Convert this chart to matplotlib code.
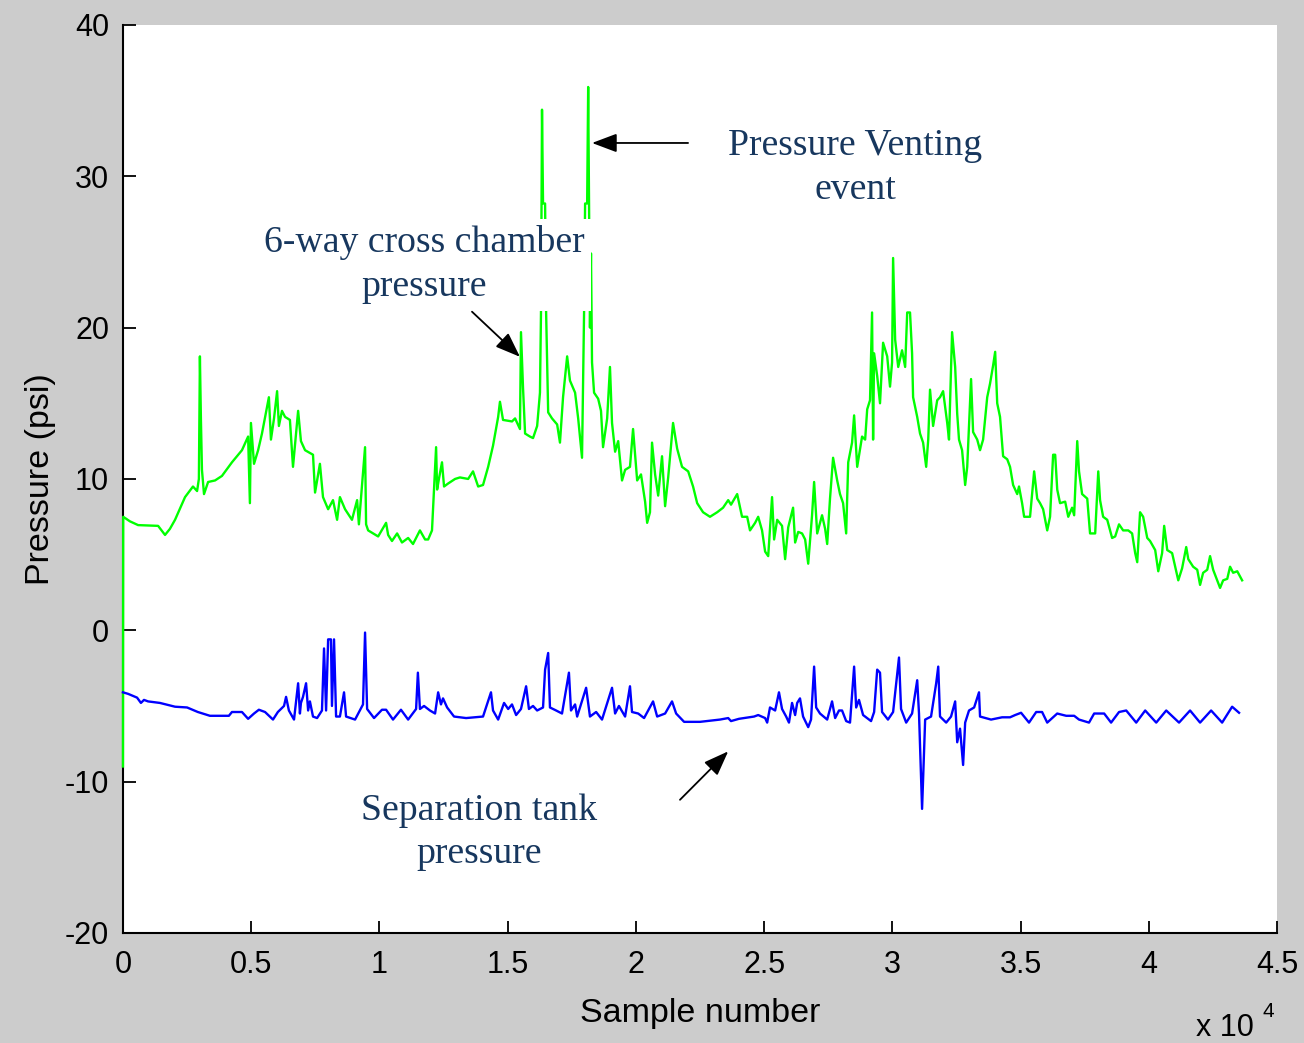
"""Chamber and separation tank pressure against sample number.

MATLAB-style figure: grey surround, white axes with only the left and
bottom axis lines, a green and a blue trace, and serif call-outs with
black arrows.  Saved as ``out.png``.
"""

import matplotlib

matplotlib.use("Agg")

import matplotlib.pyplot as plt
import numpy as np
from matplotlib.patches import ArrowStyle

# ===========================================================================
# DATA
# ===========================================================================

# 6-way cross chamber pressure (green): sample number, psi
chamber_x = [
    0, 10, 270, 590, 1370, 1640, 1830, 2030, 2420, 2730, 2890, 2960, 3000,
    3040, 3080, 3160, 3320, 3590, 3860, 4250, 4640, 4880, 4950, 4990, 5110,
    5270, 5420, 5620, 5690, 5770, 5890, 6010, 6080, 6200, 6320, 6510, 6630,
    6750, 6830, 6940, 7100, 7410, 7490, 7680, 7800, 8000, 8190, 8350, 8460,
    8660, 8930, 9130, 9200, 9440, 9480, 9560, 9950, 10260, 10340, 10490,
    10690, 10880, 11120, 11310, 11580, 11780, 11900, 12050, 12210, 12250,
    12320, 12440, 12520, 12680, 12950, 13140, 13460, 13650, 13850, 14040,
    14240, 14430, 14630, 14700, 14820, 15170, 15290, 15480, 15520, 15600,
    15680, 15870, 15990, 16150, 16260, 16300, 16340, 16380, 16460, 16500,
    16580, 16730, 16930, 17040, 17160, 17320, 17430, 17630, 17750, 17900,
    17980, 18020, 18100, 18140, 18210, 18250, 18290, 18370, 18530, 18640,
    18720, 18880, 18990, 19070, 19190, 19310, 19460, 19580, 19770, 19890,
    20050, 20200, 20360, 20440, 20550, 20630, 20750, 20870, 21020, 21140,
    21260, 21450, 21610, 21800, 22040, 22230, 22390, 22620, 22890, 23170,
    23400, 23600, 23710, 23950, 24140, 24340, 24450, 24650, 24770, 24920,
    25040, 25160, 25310, 25390, 25510, 25700, 25820, 25940, 26130, 26210,
    26330, 26480, 26600, 26720, 26870, 26950, 27070, 27260, 27380, 27460,
    27570, 27690, 27850, 27960, 28080, 28200, 28280, 28430, 28510, 28630,
    28820, 28940, 29020, 29130, 29210, 29250, 29290, 29410, 29520, 29640,
    29800, 29910, 29990, 30030, 30110, 30230, 30380, 30500, 30580, 30690,
    30770, 30810, 30970, 31080, 31200, 31320, 31400, 31470, 31590, 31750,
    31860, 31980, 32140, 32210, 32330, 32450, 32530, 32600, 32720, 32840,
    32920, 33070, 33150, 33310, 33420, 33540, 33700, 33810, 33930, 34010,
    34090, 34200, 34320, 34480, 34590, 34710, 34870, 34940, 35060, 35140,
    35370, 35450, 35530, 35650, 35760, 35880, 36040, 36150, 36270, 36350,
    36430, 36540, 36740, 36860, 37010, 37090, 37210, 37280, 37400, 37600,
    37710, 37910, 38030, 38100, 38220, 38380, 38570, 38690, 38840, 39000,
    39200, 39350, 39470, 39550, 39660, 39780, 39940, 40050, 40250, 40370,
    40520, 40600, 40720, 40910, 41030, 41150, 41300, 41460, 41540, 41730,
    41890, 42000, 42120, 42280, 42390, 42510, 42670, 42780, 42900, 43060,
    43170, 43290, 43450, 43640,
]
chamber_psi = [
    -9.0, 7.5, 7.2, 6.95, 6.9, 6.3, 6.7, 7.3, 8.8, 9.5, 9.2, 10.0, 18.1,
    13.9, 10.6, 9.0, 9.8, 9.9, 10.2, 11.1, 11.9, 12.8, 8.4, 13.7, 11.0,
    11.9, 13.0, 14.8, 15.4, 12.6, 14.0, 15.8, 13.5, 14.5, 14.1, 13.9, 10.8,
    13.0, 14.5, 12.5, 11.9, 11.6, 9.1, 11.0, 8.8, 8.0, 8.6, 7.3, 8.8,
    8.0, 7.3, 8.6, 7.0, 12.1, 7.0, 6.6, 6.2, 7.1, 6.3, 5.9,
    6.4, 5.8, 6.1, 5.7, 6.6, 6.0, 6.0, 6.6, 12.1, 9.3,
    10.0, 11.1, 9.5, 9.7, 10.0, 10.1, 10.0, 10.5, 9.5, 9.6,
    10.8, 12.2, 14.1, 15.1, 13.9, 13.8, 14.0, 13.3, 19.7, 16.0,
    13.0, 12.8, 12.7, 13.5, 15.7, 21.0, 34.4, 28.2, 28.2, 21.0,
    14.4, 14.0, 13.6, 12.4, 15.4, 18.1, 16.5, 15.7, 14.0, 11.4,
    21.0, 28.2, 28.2, 35.9, 20.0, 24.9, 17.7, 15.7, 15.3, 14.5,
    12.1, 14.0, 17.4, 13.7, 11.8, 12.5, 9.9, 10.6, 10.8, 13.3,
    9.9, 10.3, 8.5, 7.1, 7.8, 12.4, 10.3, 8.9, 11.5, 8.2,
    10.1, 13.7, 12.0, 10.8, 10.5, 9.5, 8.4, 7.8, 7.5, 7.8,
    8.1, 8.6, 8.3, 9.0, 7.5, 7.5, 6.6, 7.1, 7.5, 6.6,
    5.2, 4.9, 8.8, 6.0, 7.3, 6.9, 4.7, 6.8, 8.1, 5.8,
    6.5, 6.4, 6.0, 4.4, 7.6, 9.8, 6.4, 7.6, 6.7, 5.7,
    8.7, 11.4, 9.9, 9.0, 8.4, 6.4, 11.1, 12.4, 14.2, 10.8,
    12.8, 12.6, 14.6, 15.2, 21.0, 12.6, 18.3, 16.8, 15.0, 19.0,
    18.1, 16.1, 17.7, 24.6, 19.2, 17.4, 18.5, 17.4, 21.0, 21.0,
    18.3, 15.4, 14.1, 13.0, 12.4, 10.8, 12.6, 15.9, 13.5, 15.2,
    15.4, 15.8, 13.7, 12.6, 19.7, 17.4, 14.3, 12.6, 11.9, 9.6,
    10.8, 16.6, 13.1, 12.6, 11.9, 12.6, 15.4, 16.3, 17.5, 18.4,
    15.0, 14.1, 11.5, 11.3, 10.8, 9.6, 9.0, 9.5, 8.4, 7.5,
    7.5, 9.0, 10.5, 8.7, 8.4, 8.0, 6.6, 7.5, 11.6, 11.6,
    9.3, 8.4, 8.5, 7.5, 8.1, 7.6, 12.5, 10.5, 9.0, 8.7,
    6.4, 6.4, 10.5, 8.6, 7.5, 7.3, 6.1, 6.2, 7.0, 6.6,
    6.6, 6.4, 5.1, 4.5, 7.8, 7.5, 6.1, 5.9, 5.3, 3.9,
    5.1, 6.9, 5.3, 5.1, 4.2, 3.3, 4.1, 5.5, 4.7, 4.2,
    4.0, 3.0, 3.8, 4.0, 4.9, 4.0, 3.3, 2.8, 3.3, 3.4,
    4.2, 3.8, 3.9, 3.3,
]

# Separation tank pressure (blue): sample number, psi
tank_x = [
    0, 200, 550, 700, 820, 980, 1440, 2030, 2500, 2920, 3390, 4130, 4250,
    4640, 4880, 5110, 5300, 5540, 5850, 6040, 6280, 6360, 6470, 6670, 6830,
    6900, 6940, 7020, 7140, 7220, 7290, 7410, 7570, 7760, 7840, 7920, 8000,
    8110, 8150, 8230, 8310, 8460, 8620, 8700, 9050, 9360, 9440, 9520, 9790,
    10100, 10260, 10530, 10840, 11120, 11430, 11500, 11580, 11740, 11970,
    12170, 12290, 12400, 12480, 12640, 12910, 13380, 14040, 14350, 14430,
    14630, 14860, 15020, 15170, 15330, 15520, 15720, 15830, 15990, 16150,
    16380, 16460, 16580, 16650, 16890, 17120, 17390, 17470, 17630, 17710,
    18060, 18210, 18450, 18680, 19070, 19190, 19340, 19580, 19770, 19850,
    20090, 20320, 20670, 20830, 21140, 21410, 21570, 21880, 22500, 23280,
    23440, 23600, 23710, 24020, 24610, 24770, 25040, 25120, 25230, 25430,
    25580, 25700, 25860, 25970, 26090, 26210, 26290, 26400, 26520, 26720,
    26830, 26950, 27030, 27180, 27460, 27650, 27770, 27920, 28040, 28200,
    28350, 28510, 28590, 28700, 28860, 29170, 29290, 29410, 29520, 29600,
    29830, 30030, 30260, 30340, 30540, 30770, 30970, 31040, 31160, 31280,
    31510, 31710, 31790, 31860, 32100, 32290, 32450, 32530, 32640, 32760,
    32840, 32990, 33190, 33380, 33420, 33850, 34280, 34590, 34790, 35020,
    35330, 35610, 35840, 36040, 36430, 36780, 37090, 37280, 37670, 37870,
    38260, 38530, 38840, 39120, 39510, 39860, 40290, 40680, 41180, 41610,
    42000, 42430, 42860, 43250, 43520,
]
tank_psi = [
    -4.1, -4.2, -4.45, -4.8, -4.6, -4.7, -4.8, -5.05, -5.1, -5.4, -5.65,
    -5.65, -5.4, -5.4, -5.85, -5.5, -5.25, -5.4, -5.9, -5.4, -5.0, -4.4,
    -5.3, -5.9, -3.5, -5.5, -4.8, -4.4, -3.5, -5.3, -4.7, -5.7, -5.8, -5.3,
    -1.2, -5.3, -0.6, -0.6, -5.0, -0.6, -5.7, -5.7, -4.1, -5.7, -5.9, -4.9,
    -0.15, -5.2, -5.8, -5.25, -5.25, -5.9, -5.25, -5.9, -5.2, -2.8, -5.2,
    -5.0, -5.3, -5.5, -4.1, -4.9, -4.5, -5.1, -5.7, -5.8, -5.7, -4.1, -5.3,
    -5.9, -4.8, -5.2, -4.9, -5.6, -5.2, -3.7, -5.2, -5.0, -5.3, -5.1, -2.6,
    -1.5, -5.1, -5.3, -5.5, -2.8, -5.3, -4.9, -5.7, -3.8, -5.7, -5.4, -5.9,
    -3.8, -5.5, -5.0, -5.7, -3.7, -5.4, -5.5, -5.8, -4.7, -5.7, -5.5, -4.7,
    -5.5, -6.05, -6.05, -5.9, -5.85, -5.8, -6.0, -5.85, -5.7, -5.6, -5.8,
    -6.1, -5.1, -5.3, -4.1, -5.2, -5.7, -6.1, -4.8, -5.6, -4.8, -4.5, -5.7,
    -6.4, -5.9, -2.4, -5.1, -5.5, -5.9, -4.7, -5.8, -5.3, -5.3, -6.0, -6.1,
    -2.4, -5.1, -4.6, -5.6, -6.0, -5.4, -2.6, -2.8, -5.4, -5.9, -5.4, -1.8,
    -5.2, -6.1, -5.5, -3.3, -5.5, -11.8, -5.9, -5.7, -3.5, -2.4, -5.7, -6.1,
    -5.7, -4.7, -7.4, -6.5, -8.9, -6.1, -5.3, -5.1, -4.1, -5.7, -5.9, -5.75,
    -5.75, -5.6, -5.45, -6.1, -5.4, -5.4, -6.1, -5.5, -5.65, -5.65, -5.9,
    -6.1, -5.5, -5.5, -6.1, -5.4, -5.3, -6.1, -5.3, -6.1, -5.3, -6.1, -5.3,
    -6.1, -5.3, -6.1, -5.05, -5.45,
]

x_ticks = [0, 0.5, 1, 1.5, 2, 2.5, 3, 3.5, 4, 4.5]
x_tick_labels = ["0", "0.5", "1", "1.5", "2", "2.5", "3", "3.5", "4", "4.5"]
y_ticks = [-20, -10, 0, 10, 20, 30, 40]

SANS = ["Liberation Sans", "DejaVu Sans"]
SERIF = ["Liberation Serif", "DejaVu Serif"]
NOTE_COLOR = "#17375e"

# MATLAB prints a plain hyphen for negative tick labels.
plt.rcParams["axes.unicode_minus"] = False


def draw_arrow(ax, tail, head):
    """Black filled-head arrow from ``tail`` to ``head`` (data coords)."""
    ax.annotate(
        "", xy=head, xytext=tail,
        arrowprops=dict(
            arrowstyle=ArrowStyle("-|>", head_length=0.85, head_width=0.32),
            mutation_scale=18, color="black", lw=1.3,
            shrinkA=0, shrinkB=0,
        ),
        zorder=5,
    )


def plot_pressure(save_path="out.png"):
    """Draw both pressure traces with the call-outs and save the figure."""
    fig = plt.figure(figsize=(13.04, 10.43), dpi=100, facecolor="#cccccc")
    ax = fig.add_axes([0.0943, 0.1055, 0.885, 0.8706])
    ax.set_facecolor("white")

    # Sample numbers are plotted in units of 10^4, as MATLAB labels them.
    ax.plot(np.array(chamber_x) / 1e4, chamber_psi, color="#00ff00",
            lw=1.7, zorder=3, clip_on=False)
    ax.plot(np.array(tank_x) / 1e4, tank_psi, color="#0000ff",
            lw=1.7, zorder=3, clip_on=False)

    ax.set_xlim(0, 4.5)
    ax.set_ylim(-20, 40)
    ax.set_xticks(x_ticks)
    ax.set_xticklabels(x_tick_labels)
    ax.set_yticks(y_ticks)

    for side in ("top", "right"):
        ax.spines[side].set_visible(False)
    for side in ("left", "bottom"):
        ax.spines[side].set_linewidth(1.5)
    ax.tick_params(direction="in", length=9, width=1.3, colors="black",
                   labelsize=22, pad=10)
    ax.tick_params(axis="x", pad=12)
    for lab in ax.get_xticklabels() + ax.get_yticklabels():
        lab.set_family(SANS)

    ax.set_xlabel("Sample number", family=SANS, fontsize=24.5, labelpad=13)
    ax.set_ylabel("Pressure (psi)", family=SANS, fontsize=24.5, labelpad=6)
    fig.text(0.9395, 0.007, "x 10", family=SANS, fontsize=22,
             ha="center", va="baseline")
    fig.text(0.9725, 0.025, "4", family=SANS, fontsize=15,
             ha="center", va="baseline")

    # Call-outs in serif, the chamber one on a white box over the spikes.
    note = dict(family=SERIF, fontsize=27.2, color=NOTE_COLOR,
                ha="center", va="center", linespacing=1.35, zorder=4)
    ax.text(2.855, 30.55, "Pressure Venting\nevent", **note)
    ax.text(1.174, 24.15, "6-way cross chamber\npressure",
            bbox=dict(fc="white", ec="none", pad=5), **note)
    ax.text(1.389, -13.35, "Separation tank\npressure", **note)

    draw_arrow(ax, (2.2035, 32.2), (1.829, 32.2))
    draw_arrow(ax, (1.361, 21.05), (1.548, 18.07))
    draw_arrow(ax, (2.172, -11.2), (2.360, -8.0))

    fig.savefig(save_path, dpi=100, facecolor=fig.get_facecolor())
    return fig


def main():
    plot_pressure()


if __name__ == "__main__":
    main()
